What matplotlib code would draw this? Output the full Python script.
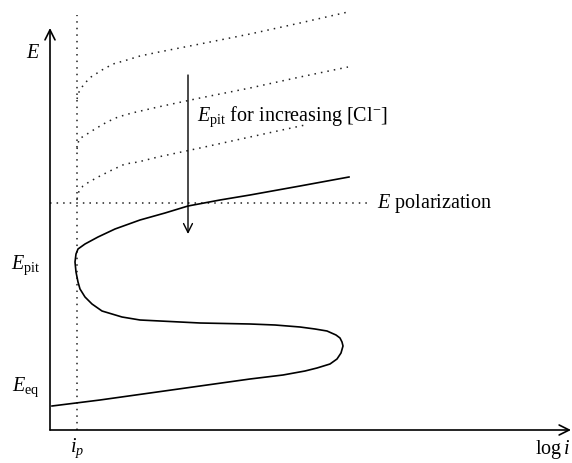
import numpy as np
import matplotlib
matplotlib.use("Agg")
import matplotlib.pyplot as plt

plt.rcParams['font.family'] = 'Liberation Serif'
plt.rcParams['mathtext.fontset'] = 'custom'
plt.rcParams['mathtext.rm'] = 'Liberation Serif'
plt.rcParams['mathtext.it'] = 'Liberation Serif:italic'

# Polarization curve (log i, E) in arbitrary units, traced from E_eq round the nose
curve_logi = [2, 50, 100, 150, 200, 233, 255, 267, 280, 287, 291, 293, 292,
              290, 286, 277, 265, 250, 225, 200, 150, 110, 90, 72, 52, 42, 35,
              30, 28, 26, 25, 26, 28, 35, 48, 65, 90, 115, 138, 170, 200, 250, 299]
curve_E = [24, 30, 37, 44, 51, 55, 59, 62, 66, 71, 77, 84, 88,
           92, 95, 99, 101, 103, 105, 106, 107, 109, 110, 113, 119, 126, 133,
           141, 148, 158, 168, 176, 181, 186, 193, 201, 210, 217, 224, 230, 235, 244, 253]

# Pitting curves for increasing chloride content (dotted)
pit1_logi = [27, 29, 32, 36, 41, 52, 63, 77, 90, 109, 150, 200, 250, 298]
pit1_E = [331, 338, 343, 348, 353, 360, 366, 370, 374, 378, 386, 396, 407, 418]
pit2_logi = [27, 29, 34, 45, 57, 68, 82, 95, 108, 150, 200, 250, 298]
pit2_E = [281, 291, 294, 301, 308, 313, 317, 320, 323, 332, 342, 353, 363]
pit3_logi = [27, 29, 33, 39, 50, 62, 75, 88, 108, 150, 200, 255]
pit3_E = [231, 239, 244, 248, 254, 260, 266, 268, 273, 282, 293, 305]

i_p = 27
E_pol = 227
E_pit = 166
E_eq = 44

fig = plt.figure(figsize=(5.72, 4.64), dpi=100)
ax = fig.add_axes([0, 0, 1, 1])
ax.set_xlim(-50, 522)
ax.set_ylim(-33, 431)
ax.axis('off')

dot = dict(color='#222222', lw=1.1, linestyle=(0, (1, 3.3)))

# axes with open arrow heads
ax.annotate('', xy=(0, 402), xytext=(0, 0),
            arrowprops=dict(arrowstyle='->', lw=1.2, color='black',
                            mutation_scale=18, shrinkA=0, shrinkB=0))
ax.annotate('', xy=(521, 0), xytext=(0, 0),
            arrowprops=dict(arrowstyle='->', lw=1.2, color='black',
                            mutation_scale=18, shrinkA=0, shrinkB=0))

ax.plot([i_p, i_p], [0, 415], **dot)
ax.plot([0, 317], [E_pol, E_pol], **dot)
for xs, ys in [(pit1_logi, pit1_E), (pit2_logi, pit2_E), (pit3_logi, pit3_E)]:
    ax.plot(xs, ys, **dot)

ax.plot(curve_logi, curve_E, color='black', lw=1.2, solid_joinstyle='round')

# arrow for decreasing pitting potential
ax.annotate('', xy=(138, 196), xytext=(138, 355),
            arrowprops=dict(arrowstyle='->', lw=1.0, color='black',
                            mutation_scale=16, shrinkA=0, shrinkB=0))

fs = 14.5
ax.text(-17, 378, r'$E$', fontsize=fs, ha='center', va='center')
ax.text(-10, E_pit, r'$E_{\rm pit}$', fontsize=fs, ha='right', va='center')
ax.text(-10, E_eq, r'$E_{\rm eq}$', fontsize=fs, ha='right', va='center')
ax.text(i_p, -17, r'$i_p$', fontsize=fs, ha='center', va='center')
ax.text(520, -19, r'$\log i$', fontsize=fs, ha='right', va='center')
ax.text(327, E_pol, r'$E$ polarization', fontsize=fs, ha='left', va='center')
ax.text(147, 314, r'$E_{\rm pit}$ for increasing [Cl$^{-}$]', fontsize=fs,
        ha='left', va='center')

fig.savefig('out.png', dpi=100)
